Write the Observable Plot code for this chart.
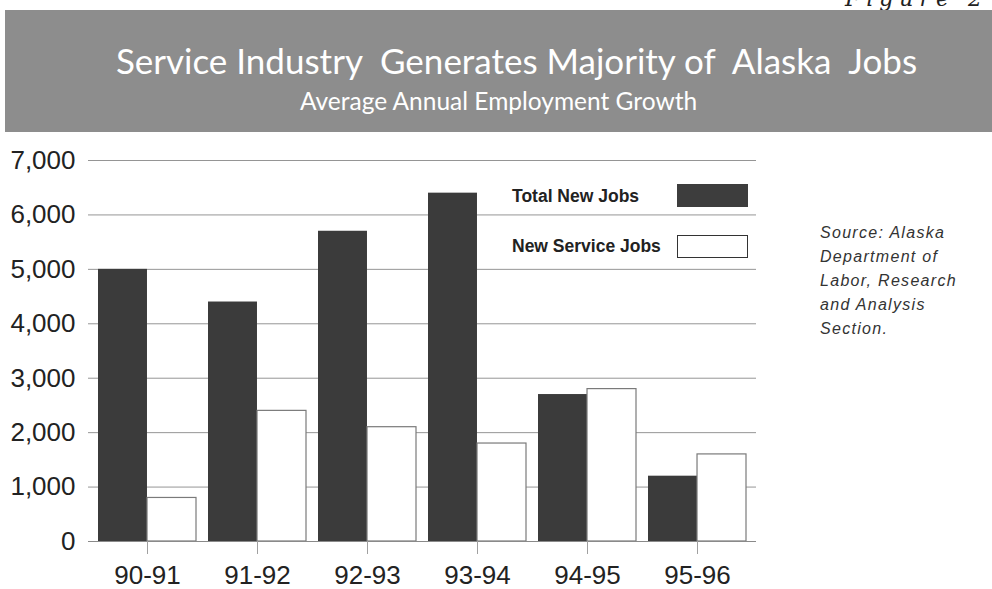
<!DOCTYPE html>
<html>
<head>
<meta charset="utf-8">
<script src="https://cdn.jsdelivr.net/npm/d3@7"></script>
<script src="https://cdn.jsdelivr.net/npm/@observablehq/plot@0.6"></script>
<style>
  html, body { margin: 0; padding: 0; background: #fff; }
  body { width: 992px; height: 589px; position: relative; overflow: hidden; font-family: "Liberation Sans", Arial, sans-serif; }
  #fig { position: absolute; right: 4px; top: -14px; font-family: "DejaVu Serif", serif; font-style: italic; font-size: 22px; letter-spacing: 6px; color: #222; }
  #banner { position: absolute; left: 5px; top: 10px; width: 987px; height: 122px; background: #8d8d8d; color: #fff; text-align: center; }
  #title { position: absolute; left: 36px; right: 0; top: 30px; font-family: Lato, "Open Sans", sans-serif; font-size: 35px; line-height: 40px; white-space: pre; }
  #subtitle { position: absolute; left: 0; right: 0; top: 78px; font-family: Lato, "Open Sans", sans-serif; font-size: 24.5px; line-height: 26px; }
  #chart { position: absolute; left: 0; top: 140px; }
  .leg { position: absolute; font-family: "Liberation Sans", Arial, sans-serif; font-weight: bold; font-size: 17.5px; line-height: 20px; color: #222; }
  .sw { position: absolute; width: 71px; height: 23px; box-sizing: border-box; }
  #source { position: absolute; left: 820px; top: 221px; font-family: "Liberation Sans", Arial, sans-serif; font-style: italic; font-size: 16px; line-height: 24px; letter-spacing: 1.3px; color: #333; }
</style>
</head>
<body>
<div id="fig">Figure 2</div>
<div id="banner">
  <div id="title">Service Industry  Generates Majority of  Alaska  Jobs</div>
  <div id="subtitle">Average Annual Employment Growth</div>
</div>
<div id="chart"></div>
<div class="leg" style="left:512px; top:186px;">Total New Jobs</div>
<div class="sw" style="left:677px; top:184px; background:#3d3d3d;"></div>
<div class="leg" style="left:512px; top:236px;">New Service Jobs</div>
<div class="sw" style="left:677px; top:235px; background:#fff; border:1.5px solid #333;"></div>
<div id="source">Source: Alaska<br>Department of<br>Labor, Research<br>and Analysis<br>Section.</div>
<script>
const periods = ["90-91", "91-92", "92-93", "93-94", "94-95", "95-96"];
const seriesNames = ["Total New Jobs", "New Service Jobs"];
const totalNewJobs = [5000, 4400, 5700, 6400, 2700, 1200];
const newServiceJobs = [800, 2400, 2100, 1800, 2800, 1600];
const yTicks = [0, 1000, 2000, 3000, 4000, 5000, 6000, 7000];

const totals = periods.map((p, i) => ({period: p, series: seriesNames[0], value: totalNewJobs[i]}));
const service = periods.map((p, i) => ({period: p, series: seriesNames[1], value: newServiceJobs[i]}));

const W = 770, ML = 88, MR = 14, PI = 0.109, PO = 0.09;
const step = (W - ML - MR) / (periods.length - PI + 2 * PO);
const half = step * (1 - PI) / 2;

const chart = Plot.plot({
  width: W,
  height: 449,
  marginLeft: ML,
  marginRight: MR,
  marginTop: 20,
  marginBottom: 48,
  style: {background: "transparent", fontFamily: "'Liberation Sans', Arial, sans-serif", fontSize: "26px", color: "#222"},
  x: {domain: periods, paddingInner: PI, paddingOuter: PO, label: null},
  y: {domain: [0, 7000], label: null},
  marks: [
    Plot.gridY(yTicks, {stroke: "#959595", strokeOpacity: 1, strokeWidth: 1}),
    Plot.barY(totals, {x: "period", y: "value", fill: "#3b3b3b", insetRight: half}),
    Plot.barY(service, {x: "period", y: "value", fill: "#ffffff", stroke: "#7a7a7a", strokeWidth: 1.2, insetLeft: half}),
    Plot.ruleY([0], {stroke: "#8a8a8a"}),
    Plot.axisY(yTicks, {tickFormat: d3.format(","), tickSize: 0, tickPadding: 13, label: null}),
    Plot.axisX({tickSize: 13, tickPadding: 11, stroke: "#a0a0a0", label: null})
  ]
});
document.getElementById("chart").appendChild(chart);
</script>
</body>
</html>
